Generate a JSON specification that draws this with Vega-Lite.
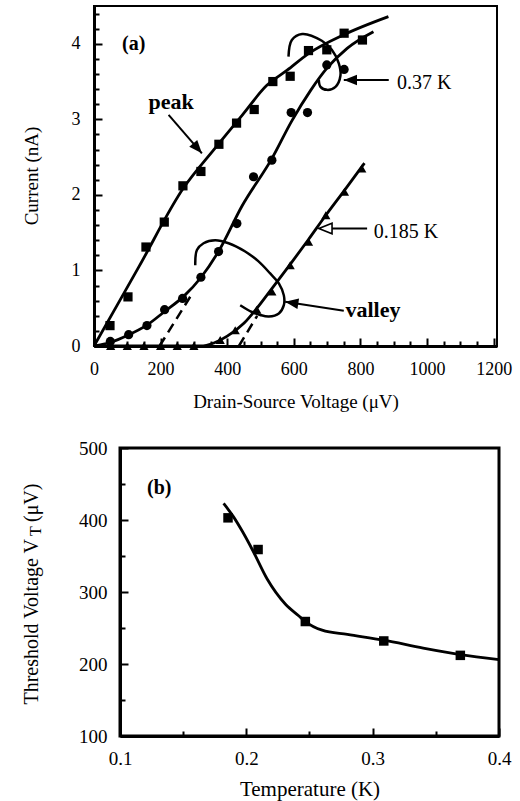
{
  "$schema": "https://vega.github.io/schema/vega-lite/v6.json",
  "background": "white",
  "padding": {"left": 20, "top": 5, "right": 5, "bottom": 0},
  "spacing": 25,
  "config": {
    "font": "Liberation Serif",
    "axis": {"grid": false, "domainColor": "black", "tickColor": "black", "labelColor": "black", "titleColor": "black", "labelFont": "Liberation Serif", "titleFont": "Liberation Serif", "titleFontWeight": "normal", "labelFlush": false, "labelOverlap": false, "tickWidth": 2, "domainWidth": 3},
    "view": {"stroke": "black", "strokeWidth": 2},
    "text": {"font": "Liberation Serif", "color": "black"}
  },
  "vconcat": [
    {
      "width": 403,
      "height": 340,
      "resolve": {"axis": {"x": "independent", "y": "independent"}},
      "layer": [
        {
          "layer": [
            {
              "data": {"values": [
                {"c": "c1", "v": 0, "I": 0}, {"c": "c1", "v": 135, "I": 1.05}, {"c": "c1", "v": 270, "I": 2.1}, {"c": "c1", "v": 360, "I": 2.6}, {"c": "c1", "v": 444, "I": 3.05}, {"c": "c1", "v": 519, "I": 3.45}, {"c": "c1", "v": 580, "I": 3.65}, {"c": "c1", "v": 644, "I": 3.87}, {"c": "c1", "v": 750, "I": 4.12}, {"c": "c1", "v": 884, "I": 4.36},
                {"c": "c2", "v": 0, "I": 0}, {"c": "c2", "v": 50, "I": 0.05}, {"c": "c2", "v": 100, "I": 0.14}, {"c": "c2", "v": 160, "I": 0.28}, {"c": "c2", "v": 210, "I": 0.45}, {"c": "c2", "v": 270, "I": 0.66}, {"c": "c2", "v": 320, "I": 0.9}, {"c": "c2", "v": 375, "I": 1.26}, {"c": "c2", "v": 444, "I": 1.85}, {"c": "c2", "v": 534, "I": 2.48}, {"c": "c2", "v": 594, "I": 2.98}, {"c": "c2", "v": 650, "I": 3.38}, {"c": "c2", "v": 700, "I": 3.68}, {"c": "c2", "v": 760, "I": 3.94}, {"c": "c2", "v": 839, "I": 4.16},
                {"c": "c3", "v": 0, "I": 0}, {"c": "c3", "v": 320, "I": 0}, {"c": "c3", "v": 360, "I": 0.04}, {"c": "c3", "v": 400, "I": 0.13}, {"c": "c3", "v": 450, "I": 0.3}, {"c": "c3", "v": 489, "I": 0.5}, {"c": "c3", "v": 534, "I": 0.76}, {"c": "c3", "v": 589, "I": 1.08}, {"c": "c3", "v": 644, "I": 1.41}, {"c": "c3", "v": 696, "I": 1.73}, {"c": "c3", "v": 752, "I": 2.06}, {"c": "c3", "v": 812, "I": 2.42}
              ]},
              "mark": {"type": "line", "color": "black", "strokeWidth": 2.8, "interpolate": "monotone"},
              "encoding": {
                "x": {"field": "v", "type": "quantitative", "scale": {"domain": [0, 1210], "nice": false, "zero": false},
                  "axis": {"title": "Drain-Source Voltage (μV)", "orient": "bottom", "values": [0, 200, 400, 600, 800, 1000, 1200], "format": "d", "tickSize": -8, "labelPadding": 22, "labelFontSize": 18, "titleFontSize": 19, "titlePadding": 14}},
                "y": {"field": "I", "type": "quantitative", "scale": {"domain": [0, 4.5], "nice": false, "zero": false},
                  "axis": {"title": null, "orient": "left", "values": [0, 1, 2, 3, 4], "format": "d", "tickSize": -8, "labelPadding": 22, "labelFontSize": 18}},
                "detail": {"field": "c"}
              }
            },
            {
              "data": {"values": [
                {"l": "L1", "k": 1, "v": 584, "I": 3.83}, {"l": "L1", "k": 2, "v": 594, "I": 4.05}, {"l": "L1", "k": 3, "v": 625, "I": 4.13}, {"l": "L1", "k": 4, "v": 684, "I": 4.04}, {"l": "L1", "k": 5, "v": 714, "I": 3.92}, {"l": "L1", "k": 6, "v": 735, "I": 3.74}, {"l": "L1", "k": 7, "v": 740, "I": 3.58}, {"l": "L1", "k": 8, "v": 725, "I": 3.43}, {"l": "L1", "k": 9, "v": 700, "I": 3.39}, {"l": "L1", "k": 10, "v": 680, "I": 3.43}, {"l": "L1", "k": 11, "v": 675, "I": 3.52},
                {"l": "L2", "k": 1, "v": 304, "I": 1.07}, {"l": "L2", "k": 2, "v": 309, "I": 1.27}, {"l": "L2", "k": 3, "v": 329, "I": 1.36}, {"l": "L2", "k": 4, "v": 364, "I": 1.4}, {"l": "L2", "k": 5, "v": 404, "I": 1.36}, {"l": "L2", "k": 6, "v": 454, "I": 1.25}, {"l": "L2", "k": 7, "v": 494, "I": 1.12}, {"l": "L2", "k": 8, "v": 529, "I": 0.96}, {"l": "L2", "k": 9, "v": 555, "I": 0.83}, {"l": "L2", "k": 10, "v": 570, "I": 0.67}, {"l": "L2", "k": 11, "v": 570, "I": 0.54}, {"l": "L2", "k": 12, "v": 555, "I": 0.43}, {"l": "L2", "k": 13, "v": 525, "I": 0.39}, {"l": "L2", "k": 14, "v": 499, "I": 0.41}, {"l": "L2", "k": 15, "v": 474, "I": 0.45}, {"l": "L2", "k": 16, "v": 439, "I": 0.54}
              ]},
              "mark": {"type": "line", "color": "black", "strokeWidth": 2.5, "interpolate": "catmull-rom"},
              "encoding": {"x": {"field": "v", "type": "quantitative"}, "y": {"field": "I", "type": "quantitative"}, "detail": {"field": "l"}, "order": {"field": "k", "type": "quantitative"}}
            },
            {
              "data": {"values": [
                {"s": "sq", "v": 48, "I": 0.27}, {"s": "sq", "v": 102, "I": 0.65}, {"s": "sq", "v": 156, "I": 1.31}, {"s": "sq", "v": 211, "I": 1.64}, {"s": "sq", "v": 267, "I": 2.12}, {"s": "sq", "v": 321, "I": 2.31}, {"s": "sq", "v": 375, "I": 2.67}, {"s": "sq", "v": 428, "I": 2.95}, {"s": "sq", "v": 481, "I": 3.13}, {"s": "sq", "v": 537, "I": 3.5}, {"s": "sq", "v": 589, "I": 3.57}, {"s": "sq", "v": 644, "I": 3.91}, {"s": "sq", "v": 699, "I": 3.92}, {"s": "sq", "v": 751, "I": 4.14}, {"s": "sq", "v": 806, "I": 4.05},
                {"s": "ci", "v": 49, "I": 0.06}, {"s": "ci", "v": 104, "I": 0.15}, {"s": "ci", "v": 159, "I": 0.27}, {"s": "ci", "v": 212, "I": 0.48}, {"s": "ci", "v": 266, "I": 0.63}, {"s": "ci", "v": 321, "I": 0.91}, {"s": "ci", "v": 374, "I": 1.25}, {"s": "ci", "v": 429, "I": 1.62}, {"s": "ci", "v": 479, "I": 2.24}, {"s": "ci", "v": 534, "I": 2.46}, {"s": "ci", "v": 592, "I": 3.09}, {"s": "ci", "v": 641, "I": 3.09}, {"s": "ci", "v": 699, "I": 3.72}, {"s": "ci", "v": 751, "I": 3.66},
                {"s": "tr", "v": 50, "I": 0}, {"s": "tr", "v": 100, "I": 0}, {"s": "tr", "v": 150, "I": 0}, {"s": "tr", "v": 200, "I": 0}, {"s": "tr", "v": 250, "I": 0}, {"s": "tr", "v": 300, "I": 0}, {"s": "tr", "v": 379, "I": 0.08}, {"s": "tr", "v": 424, "I": 0.21}, {"s": "tr", "v": 489, "I": 0.48}, {"s": "tr", "v": 534, "I": 0.72}, {"s": "tr", "v": 589, "I": 1.07}, {"s": "tr", "v": 644, "I": 1.38}, {"s": "tr", "v": 696, "I": 1.73}, {"s": "tr", "v": 752, "I": 2.04}, {"s": "tr", "v": 804, "I": 2.35}
              ]},
              "mark": {"type": "point", "filled": true, "color": "black", "opacity": 1},
              "encoding": {
                "x": {"field": "v", "type": "quantitative"},
                "y": {"field": "I", "type": "quantitative"},
                "shape": {"field": "s", "type": "nominal", "scale": {"domain": ["sq", "ci", "tr"], "range": ["square", "circle", "triangle-up"]}, "legend": null},
                "size": {"field": "s", "type": "nominal", "scale": {"domain": ["sq", "ci", "tr"], "range": [85, 85, 40]}, "legend": null}
              }
            },
            {
              "data": {"values": [
                {"v": 224, "I": 3.06, "v2": 324, "I2": 2.55},
                {"v": 885, "I": 3.52, "v2": 750, "I2": 3.52},
                {"v": 820, "I": 1.555, "v2": 690, "I2": 1.555},
                {"v": 750, "I": 0.467, "v2": 574, "I2": 0.586}
              ]},
              "mark": {"type": "rule", "color": "black", "strokeWidth": 2},
              "encoding": {"x": {"field": "v", "type": "quantitative"}, "y": {"field": "I", "type": "quantitative"}, "x2": {"field": "v2"}, "y2": {"field": "I2"}}
            },
            {
              "data": {"values": [{"v": 324, "I": 2.55}]},
              "mark": {"type": "point", "shape": "M0,0L-0.4,1L0.4,1Z", "size": 700, "angle": 139, "filled": true, "fill": "black", "strokeWidth": 0, "opacity": 1},
              "encoding": {"x": {"field": "v", "type": "quantitative"}, "y": {"field": "I", "type": "quantitative"}}
            },
            {
              "data": {"values": [{"v": 750, "I": 3.52}]},
              "mark": {"type": "point", "shape": "M0,0L-0.4,1L0.4,1Z", "size": 700, "angle": 270, "filled": true, "fill": "black", "strokeWidth": 0, "opacity": 1},
              "encoding": {"x": {"field": "v", "type": "quantitative"}, "y": {"field": "I", "type": "quantitative"}}
            },
            {
              "data": {"values": [{"v": 675, "I": 1.555}]},
              "mark": {"type": "point", "shape": "M0,0L-0.4,1L0.4,1Z", "size": 700, "angle": 270, "filled": true, "fill": "white", "stroke": "black", "strokeWidth": 1.6, "opacity": 1},
              "encoding": {"x": {"field": "v", "type": "quantitative"}, "y": {"field": "I", "type": "quantitative"}}
            },
            {
              "data": {"values": [{"v": 574, "I": 0.586}]},
              "mark": {"type": "point", "shape": "M0,0L-0.4,1L0.4,1Z", "size": 700, "angle": 279, "filled": true, "fill": "black", "strokeWidth": 0, "opacity": 1},
              "encoding": {"x": {"field": "v", "type": "quantitative"}, "y": {"field": "I", "type": "quantitative"}}
            },
            {
              "data": {"values": [{"v": 84, "I": 4.0, "t": "(a)"}]},
              "mark": {"type": "text", "align": "left", "baseline": "middle", "fontSize": 20, "fontWeight": "bold"},
              "encoding": {"x": {"field": "v", "type": "quantitative"}, "y": {"field": "I", "type": "quantitative"}, "text": {"field": "t"}}
            },
            {
              "data": {"values": [{"v": 164, "I": 3.23, "t": "peak"}, {"v": 755, "I": 0.476, "t": "valley"}]},
              "mark": {"type": "text", "align": "left", "baseline": "middle", "fontSize": 22, "fontWeight": "bold"},
              "encoding": {"x": {"field": "v", "type": "quantitative"}, "y": {"field": "I", "type": "quantitative"}, "text": {"field": "t"}}
            },
            {
              "data": {"values": [{"v": 910, "I": 3.48, "t": "0.37 K"}, {"v": 840, "I": 1.512, "t": "0.185 K"}]},
              "mark": {"type": "text", "align": "left", "baseline": "middle", "fontSize": 20},
              "encoding": {"x": {"field": "v", "type": "quantitative"}, "y": {"field": "I", "type": "quantitative"}, "text": {"field": "t"}}
            },
            {
              "data": {"values": [{"v": -168, "I": 2.25, "t": "Current (nA)"}]},
              "mark": {"type": "text", "align": "center", "baseline": "alphabetic", "angle": 270, "fontSize": 19},
              "encoding": {"x": {"field": "v", "type": "quantitative"}, "y": {"field": "I", "type": "quantitative"}, "text": {"field": "t"}}
            }
          ]
        },
        {
          "data": {"values": [
            {"d": "d1", "v": 197, "I": 0}, {"d": "d1", "v": 290, "I": 0.66},
            {"d": "d2", "v": 435, "I": 0}, {"d": "d2", "v": 490, "I": 0.4}
          ]},
          "mark": {"type": "line", "color": "black", "strokeWidth": 2.5, "strokeDash": [10, 6]},
          "encoding": {
            "x": {"field": "v", "type": "quantitative", "axis": {"title": null, "orient": "bottom", "values": [50, 100, 150, 250, 300, 350, 450, 500, 550, 650, 700, 750, 850, 900, 950, 1050, 1100, 1150], "labels": false, "domain": false, "tickSize": -5}},
            "y": {"field": "I", "type": "quantitative", "axis": {"title": null, "orient": "left", "values": [0.2, 0.4, 0.6, 0.8, 1.2, 1.4, 1.6, 1.8, 2.2, 2.4, 2.6, 2.8, 3.2, 3.4, 3.6, 3.8, 4.2, 4.4], "labels": false, "domain": false, "tickSize": -5}},
            "detail": {"field": "d"}
          }
        }
      ]
    },
    {
      "bounds": "flush",
      "spacing": 25,
      "hconcat": [
        {
          "width": 1,
          "height": 1,
          "data": {"values": []},
          "mark": "point",
          "view": {"stroke": null}
        },
        {
          "width": 379,
          "height": 288,
          "view": {"stroke": "black", "strokeWidth": 3},
          "resolve": {"axis": {"x": "independent", "y": "independent"}},
          "layer": [
            {
              "layer": [
                {
                  "data": {"values": [
                    {"T": 0.182, "V": 423}, {"T": 0.19, "V": 404}, {"T": 0.1966, "V": 385}, {"T": 0.205, "V": 358}, {"T": 0.2165, "V": 318}, {"T": 0.231, "V": 283}, {"T": 0.2414, "V": 267}, {"T": 0.2467, "V": 259}, {"T": 0.26, "V": 247}, {"T": 0.28, "V": 241}, {"T": 0.3088, "V": 233}, {"T": 0.34, "V": 222}, {"T": 0.3694, "V": 213}, {"T": 0.4, "V": 206}
                  ]},
                  "mark": {"type": "line", "color": "black", "strokeWidth": 2.8, "interpolate": "monotone"},
                  "encoding": {
                    "x": {"field": "T", "type": "quantitative", "scale": {"domain": [0.1, 0.4], "nice": false, "zero": false},
                      "axis": {"title": "Temperature (K)", "orient": "bottom", "values": [0.1, 0.2, 0.3, 0.4], "format": ".1f", "tickSize": -8, "labelPadding": 21, "labelFontSize": 19, "titleFontSize": 21, "titlePadding": 10}},
                    "y": {"field": "V", "type": "quantitative", "scale": {"domain": [100, 500], "nice": false, "zero": false},
                      "axis": {"title": null, "orient": "left", "values": [100, 200, 300, 400, 500], "format": "d", "tickSize": -8, "labelPadding": 21, "labelFontSize": 19}}
                  }
                },
                {
                  "data": {"values": [{"T": 0.1214, "V": 445, "t": "(b)"}]},
                  "mark": {"type": "text", "align": "left", "baseline": "middle", "fontSize": 20, "fontWeight": "bold"},
                  "encoding": {"x": {"field": "T", "type": "quantitative"}, "y": {"field": "V", "type": "quantitative"}, "text": {"field": "t"}}
                },
                {
                  "data": {"values": [{"T": 0.0351, "V": 373.6, "t": "Threshold Voltage V"}]},
                  "mark": {"type": "text", "align": "right", "baseline": "alphabetic", "angle": 270, "fontSize": 20},
                  "encoding": {"x": {"field": "T", "type": "quantitative"}, "y": {"field": "V", "type": "quantitative"}, "text": {"field": "t"}}
                },
                {
                  "data": {"values": [{"T": 0.0375, "V": 377.8, "t": "T"}]},
                  "mark": {"type": "text", "align": "left", "baseline": "alphabetic", "angle": 270, "fontSize": 16},
                  "encoding": {"x": {"field": "T", "type": "quantitative"}, "y": {"field": "V", "type": "quantitative"}, "text": {"field": "t"}}
                },
                {
                  "data": {"values": [{"T": 0.0351, "V": 397.2, "t": "(μV)"}]},
                  "mark": {"type": "text", "align": "left", "baseline": "alphabetic", "angle": 270, "fontSize": 20},
                  "encoding": {"x": {"field": "T", "type": "quantitative"}, "y": {"field": "V", "type": "quantitative"}, "text": {"field": "t"}}
                }
              ]
            },
            {
              "data": {"values": [
                {"T": 0.1855, "V": 403}, {"T": 0.2093, "V": 359}, {"T": 0.2467, "V": 259}, {"T": 0.3088, "V": 232}, {"T": 0.3694, "V": 212}
              ]},
              "mark": {"type": "point", "shape": "square", "filled": true, "color": "black", "size": 90, "opacity": 1},
              "encoding": {
                "x": {"field": "T", "type": "quantitative", "axis": {"title": null, "orient": "bottom", "values": [0.15, 0.25, 0.35], "labels": false, "domain": false, "tickSize": -5}},
                "y": {"field": "V", "type": "quantitative", "axis": {"title": null, "orient": "left", "values": [150, 250, 350, 450], "labels": false, "domain": false, "tickSize": -5}}
              }
            }
          ]
        }
      ]
    }
  ]
}
